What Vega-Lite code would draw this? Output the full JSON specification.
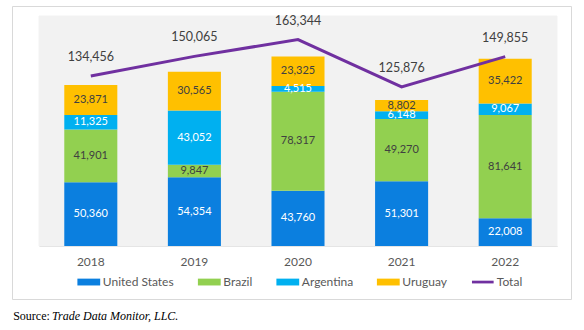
{
  "$schema": "https://vega.github.io/schema/vega-lite/v6.json",
  "width": 559,
  "height": 293,
  "autosize": "none",
  "padding": {"left": 12, "top": 6, "right": 13, "bottom": 31},
  "background": "white",
  "config": {
    "view": {"stroke": "#d9d9d9", "strokeWidth": 1, "fill": "white"},
    "font": "Lato",
    "axisX": {
      "offset": -53, "domainColor": "#d9d9d9", "domainWidth": 1, "ticks": false, "grid": false,
      "labelAngle": 0, "labelPadding": 10, "labelFont": "Lato", "labelFontSize": 12, "labelColor": "#595959",
      "titleX": 39.5, "titleY": 73, "titleAlign": "left", "titleBaseline": "alphabetic",
      "titleFont": "Liberation Serif", "titleFontStyle": "italic", "titleFontWeight": "normal",
      "titleFontSize": 12, "titleColor": "#000000", "zindex": 1
    },
    "axisY": {
      "labels": false, "ticks": false, "domain": false, "grid": false,
      "titleAngle": 0, "titleX": 0.7, "titleY": 313, "titleAlign": "left", "titleBaseline": "alphabetic",
      "titleFont": "Liberation Serif", "titleFontWeight": "normal", "titleFontSize": 12, "titleColor": "#000000"
    }
  },
  "datasets": {
    "bars": [
      {"year": "2018", "country": "United States", "value": 50360, "rank": 1},
      {"year": "2018", "country": "Brazil", "value": 41901, "rank": 2},
      {"year": "2018", "country": "Argentina", "value": 11325, "rank": 3},
      {"year": "2018", "country": "Uruguay", "value": 23871, "rank": 4},
      {"year": "2019", "country": "United States", "value": 54354, "rank": 1},
      {"year": "2019", "country": "Brazil", "value": 9847, "rank": 2},
      {"year": "2019", "country": "Argentina", "value": 43052, "rank": 3},
      {"year": "2019", "country": "Uruguay", "value": 30565, "rank": 4},
      {"year": "2020", "country": "United States", "value": 43760, "rank": 1},
      {"year": "2020", "country": "Brazil", "value": 78317, "rank": 2},
      {"year": "2020", "country": "Argentina", "value": 4515, "rank": 3},
      {"year": "2020", "country": "Uruguay", "value": 23325, "rank": 4},
      {"year": "2021", "country": "United States", "value": 51301, "rank": 1},
      {"year": "2021", "country": "Brazil", "value": 49270, "rank": 2},
      {"year": "2021", "country": "Argentina", "value": 6148, "rank": 3},
      {"year": "2021", "country": "Uruguay", "value": 8802, "rank": 4},
      {"year": "2022", "country": "United States", "value": 22008, "rank": 1},
      {"year": "2022", "country": "Brazil", "value": 81641, "rank": 2},
      {"year": "2022", "country": "Argentina", "value": 9067, "rank": 3},
      {"year": "2022", "country": "Uruguay", "value": 35422, "rank": 4}
    ],
    "totals": [
      {"year": "2018", "total": 134456},
      {"year": "2019", "total": 150065},
      {"year": "2020", "total": 163344},
      {"year": "2021", "total": 125876},
      {"year": "2022", "total": 149855}
    ]
  },
  "encoding": {
    "x": {
      "field": "year", "type": "nominal", "title": "Trade Data Monitor, LLC.",
      "scale": {"range": [27, 545], "paddingInner": 0.488, "paddingOuter": 0.244}
    }
  },
  "layer": [
    {
      "data": {"name": "totals"},
      "mark": {"type": "bar", "color": "#f2f2f2", "stroke": "#f2f2f2", "strokeWidth": 1, "width": {"band": 1.953}},
      "encoding": {
        "y": {"datum": 182000, "type": "quantitative", "title": "Source:",
              "scale": {"domain": [0, 182000], "range": [240, 10], "nice": false, "zero": true}},
        "y2": {"datum": 0}
      }
    },
    {
      "data": {"name": "bars"},
      "mark": {"type": "bar", "width": {"band": 1}},
      "encoding": {
        "y": {"field": "value", "type": "quantitative", "stack": "zero", "title": "Source:",
              "scale": {"domain": [0, 182000], "range": [240, 10], "nice": false, "zero": true}},
        "color": {
          "field": "country", "type": "nominal",
          "scale": {
            "domain": ["United States", "Brazil", "Argentina", "Uruguay", "Total"],
            "range": ["#0b7fdf", "#92d050", "#00b0f0", "#ffc000", "#7030a0"]
          },
          "legend": {
            "orient": "none", "legendX": 65.3, "legendY": 264.3, "direction": "horizontal",
            "title": null, "padding": 0, "columnPadding": 23.5,
            "symbolType": "M-1,-0.3H1V0.3H-1Z", "symbolSize": 520, "symbolStrokeWidth": 0,
            "labelFont": "Lato", "labelFontSize": 12, "labelColor": "#595959", "labelOffset": 2.5,
            "encode": {
              "symbols": {
                "update": {
                  "shape": [
                    {"test": "datum.value === 'Total'", "value": "M-0.95,-0.12H0.95V0.12H-0.95Z"},
                    {"value": "M-1,-0.3H1V0.3H-1Z"}
                  ],
                  "fill": {"scale": "color", "field": "value"},
                  "stroke": {"value": "transparent"},
                  "opacity": {"value": 1}
                }
              }
            }
          }
        },
        "order": {"field": "rank", "type": "quantitative"}
      }
    },
    {
      "data": {"name": "bars"},
      "mark": {"type": "text", "font": "Lato", "fontSize": 11, "baseline": "middle"},
      "encoding": {
        "y": {"field": "value", "type": "quantitative", "stack": "zero", "bandPosition": 0.5, "title": "Source:"},
        "detail": {"field": "country", "type": "nominal"},
        "order": {"field": "rank", "type": "quantitative"},
        "text": {"field": "value", "type": "quantitative", "format": ",d"},
        "color": {
          "condition": {"test": "datum.country === 'United States' || datum.country === 'Argentina'", "value": "#ffffff"},
          "value": "#404040"
        }
      }
    },
    {
      "data": {"name": "totals"},
      "mark": {"type": "line", "strokeWidth": 3},
      "encoding": {
        "y": {"field": "total", "type": "quantitative", "title": "Source:"},
        "color": {"datum": "Total", "type": "nominal"}
      }
    },
    {
      "data": {"name": "totals"},
      "mark": {"type": "text", "font": "Lato", "fontSize": 12.5, "baseline": "middle", "dy": -19, "color": "#404040"},
      "encoding": {
        "y": {"field": "total", "type": "quantitative", "title": "Source:"},
        "text": {"field": "total", "type": "quantitative", "format": ",d"}
      }
    }
  ]
}
